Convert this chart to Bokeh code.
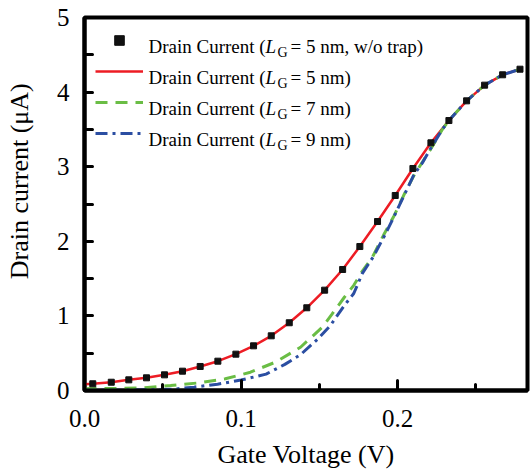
from bokeh.plotting import figure
from bokeh.models import (Range1d, FixedTicker, PrintfTickFormatter, Legend, LegendItem, Label)
from bokeh.embed import file_html
from bokeh.resources import INLINE

# ---- data ----
sq_x = [0.0053, 0.0171, 0.0283, 0.0396, 0.0511, 0.0626, 0.0739, 0.0852, 0.0967, 0.108,
        0.1193, 0.1308, 0.142, 0.1534, 0.1649, 0.1759, 0.1872, 0.1985, 0.2098, 0.2213,
        0.2328, 0.2441, 0.2556, 0.2671, 0.2782]
sq_y = [0.090, 0.111, 0.143, 0.170, 0.210, 0.259, 0.322, 0.393, 0.487, 0.599,
        0.733, 0.908, 1.109, 1.345, 1.622, 1.930, 2.265, 2.614, 2.976, 3.320,
        3.619, 3.883, 4.093, 4.232, 4.307]

red_x = [0.0] + sq_x
red_y = [0.085] + sq_y

green_x = [0.0, 0.02, 0.037, 0.055, 0.072, 0.09, 0.106, 0.122, 0.138, 0.152, 0.158, 0.166,
           0.172, 0.1775, 0.184, 0.191, 0.1977, 0.204, 0.2104, 0.2158, 0.221, 0.2286,
           0.2328, 0.2441, 0.2556, 0.2671, 0.2782]
green_y = [0.025, 0.028, 0.036, 0.067, 0.10, 0.157, 0.245, 0.38, 0.58, 0.85, 1.02, 1.25,
           1.41, 1.60, 1.79, 2.08, 2.34, 2.62, 2.88, 3.06, 3.23, 3.50,
           3.62, 3.883, 4.093, 4.232, 4.307]

blue_x = [0.0, 0.025, 0.045, 0.057, 0.07, 0.085, 0.1, 0.116, 0.128, 0.138, 0.149, 0.157,
          0.166, 0.172, 0.1775, 0.1844, 0.1923, 0.1977, 0.204, 0.2104, 0.2158, 0.221,
          0.2286, 0.2328, 0.2441, 0.2556, 0.2671, 0.2782]
blue_y = [0.005, 0.005, 0.01, 0.018, 0.045, 0.085, 0.14, 0.22, 0.35, 0.48, 0.69, 0.87,
          1.14, 1.30, 1.57, 1.79, 2.10, 2.33, 2.61, 2.89, 3.05, 3.24,
          3.50, 3.62, 3.883, 4.093, 4.232, 4.307]

x_ticks = [0.0, 0.1, 0.2]
x_minor = [0.05, 0.15, 0.25]
y_ticks = [0, 1, 2, 3, 4, 5]
y_minor = [0.5, 1.5, 2.5, 3.5, 4.5]

legend_values = ["5 nm, w/o trap", "5 nm", "7 nm", "9 nm"]

X_MAX = 0.283
Y_MAX = 5.0
FONT = "Liberation Serif"

FW, FH = 443, 373
p = figure(output_backend="svg", toolbar_location=None,
           frame_width=FW, frame_height=FH,
           min_border_left=84, min_border_right=4, min_border_top=17, min_border_bottom=82,
           x_range=Range1d(0, X_MAX), y_range=Range1d(0, Y_MAX),
           background_fill_color="white", border_fill_color="white")
p.grid.visible = False
p.outline_line_color = "black"
p.outline_line_width = 4

r_red = p.line(red_x, red_y, line_color="#ed1c24", line_width=2.5)
r_green = p.line(green_x, green_y, line_color="#6abd45", line_width=3, line_dash="12 8")
r_blue = p.line(blue_x, blue_y, line_color="#2b4ea2", line_width=3, line_dash="12 5 3 5")
r_sq = p.scatter(sq_x, sq_y, marker="square", size=6, fill_color="#111111", line_color="#111111")

for ax in (p.xaxis[0], p.yaxis[0]):
    ax.axis_line_width = 4
    ax.axis_line_color = "black"
    ax.major_tick_line_width = 3
    ax.minor_tick_line_width = 3
    ax.major_tick_line_cap = "round"
    ax.minor_tick_line_cap = "round"
    ax.major_tick_out = 0
    ax.minor_tick_out = 0
    ax.major_label_text_font = FONT
    ax.major_label_text_font_size = "25px"
    ax.major_label_text_color = "black"
    ax.axis_label_text_font = FONT
    ax.axis_label_text_font_size = "26px"
    ax.axis_label_text_font_style = "normal"
    ax.axis_label_text_color = "black"

xa = p.xaxis[0]
xa.ticker = FixedTicker(ticks=x_ticks, minor_ticks=x_minor)
xa.formatter = PrintfTickFormatter(format="%.1f")
xa.major_tick_in = 10
xa.minor_tick_in = 6
xa.major_label_standoff = 19
xa.axis_label = "Gate Voltage (V)"
xa.axis_label_standoff = 10

ya = p.yaxis[0]
ya.ticker = FixedTicker(ticks=y_ticks, minor_ticks=y_minor)
ya.formatter = PrintfTickFormatter(format="%d")
ya.major_tick_in = 8
ya.minor_tick_in = 8
ya.major_label_standoff = 15
# leading no-break spaces lift the title above the frame centre, as in the reference
ya.axis_label = "\u00a0" * 7 + "Drain current (\u03bcA)"
ya.axis_label_standoff = 20

legend = Legend(items=[LegendItem(label=" ", renderers=[r_sq]),
                       LegendItem(label=" ", renderers=[r_red]),
                       LegendItem(label=" ", renderers=[r_green]),
                       LegendItem(label=" ", renderers=[r_blue])],
                location="top_left", margin=0, padding=11, spacing=7,
                glyph_width=48, glyph_height=24, label_height=24, label_width=1,
                label_text_font_size="2px", border_line_alpha=0, background_fill_alpha=0)
p.add_layout(legend)

# legend text positions expressed in screen px from the frame's top-left
def dx(px):
    return px * X_MAX / FW

def dy(py):
    return Y_MAX - py * Y_MAX / FH

baselines = [29, 60.3, 91.3, 122.3]
for val, b in zip(legend_values, baselines):
    common = dict(text_font=FONT, text_color="black", text_baseline="alphabetic")
    p.add_layout(Label(x=dx(64), y=dy(b), text="Drain Current (", text_font_size="19px", **common))
    p.add_layout(Label(x=dx(181), y=dy(b), text="L", text_font_size="19px",
                       text_font_style="italic", **common))
    p.add_layout(Label(x=dx(193), y=dy(b + 6), text="G", text_font_size="14px", **common))
    p.add_layout(Label(x=dx(206), y=dy(b), text="= " + val + ")", text_font_size="19px", **common))

open("out.html", "w").write(file_html(p, INLINE))
